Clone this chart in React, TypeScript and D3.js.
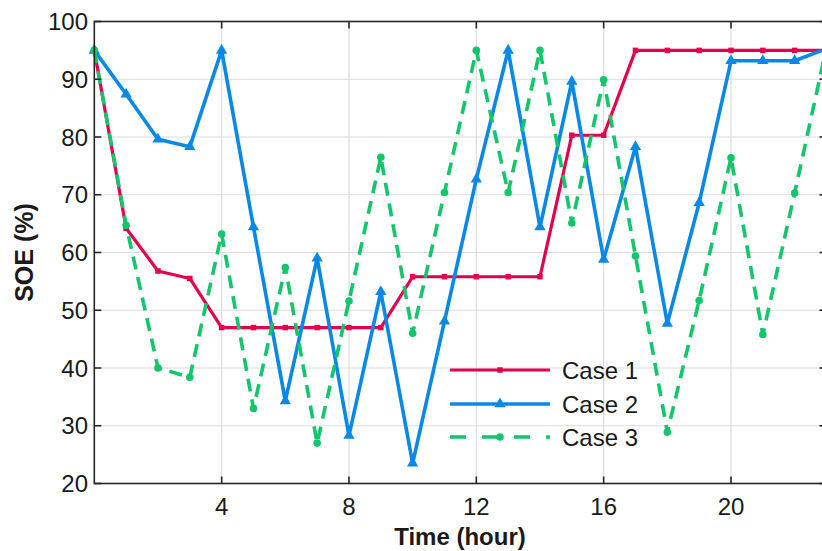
import React from "react";
import * as d3 from "d3";

const hours = d3.range(0, 24);
const case1 = [95, 64.2, 56.8, 55.5, 47, 47, 47, 47, 47, 47, 55.8, 55.8, 55.8, 55.8, 55.8, 80.3, 80.3, 95, 95, 95, 95, 95, 95, 95];
const case2 = [95, 87.4, 79.6, 78.3, 95, 64.4, 34.3, 59.0, 28.3, 53.2, 23.5, 48.1, 72.7, 95, 64.4, 89.6, 58.8, 78.3, 47.7, 68.6, 93.2, 93.2, 93.2, 95.3];
const case3 = [95, 64.7, 40.0, 38.4, 63.2, 33.0, 57.4, 27.0, 51.6, 76.5, 46.0, 70.4, 95, 70.4, 95, 65.1, 89.9, 59.4, 28.9, 51.7, 76.4, 45.8, 70.3, 95.5];
const xTicks = [4, 8, 12, 16, 20];
const yTicks = [20, 30, 40, 50, 60, 70, 80, 90, 100];
const seriesNames = ["Case 1", "Case 2", "Case 3"];

const COLORS = ["#E2004E", "#0A88E6", "#14C56C"];
const FONT = "'Liberation Sans', Arial, Helvetica, sans-serif";

export default function App() {
  const W = 822, H = 551;
  const x = d3.scaleLinear().domain([0, 23]).range([94.3, 826.5]);
  const y = d3.scaleLinear().domain([20, 100]).range([483.5, 21.5]);
  const line = d3.line<number>().x((_, i) => x(hours[i])).y((d) => y(d));
  const left = x(0), right = x(23), top = y(100), bottom = y(20);
  const axisColor = "#262626";
  const tri = d3.symbol().type(d3.symbolTriangle).size(55)();
  const sq = d3.symbol().type(d3.symbolSquare).size(30)();

  const legendRows = [370, 404, 437];

  return (
    <svg width={W} height={H} style={{ position: "absolute", left: 0, top: 0, background: "#fff" }}>
      <rect x={0} y={0} width={W} height={H} fill="#fff" />
      {/* grid */}
      {yTicks.map((t) => (
        <line key={"gy" + t} x1={left} x2={right} y1={y(t)} y2={y(t)} stroke="#dcdcdc" strokeWidth={1.2} />
      ))}
      {xTicks.map((t) => (
        <line key={"gx" + t} x1={x(t)} x2={x(t)} y1={top} y2={bottom} stroke="#dcdcdc" strokeWidth={1.2} />
      ))}
      {/* series */}
      <path d={line(case1) || ""} fill="none" stroke={COLORS[0]} strokeWidth={3.2} strokeLinejoin="round" />
      {case1.map((v, i) => (
        <path key={"m1" + i} d={sq || ""} transform={`translate(${x(hours[i])},${y(v)})`} fill={COLORS[0]} />
      ))}
      <path d={line(case2) || ""} fill="none" stroke={COLORS[1]} strokeWidth={3.6} strokeLinejoin="round" />
      {case2.map((v, i) => (
        <path key={"m2" + i} d={tri || ""} transform={`translate(${x(hours[i])},${y(v)})`} fill={COLORS[1]} />
      ))}
      <path d={line(case3) || ""} fill="none" stroke={COLORS[2]} strokeWidth={3.6} strokeDasharray="13,8" />
      {case3.map((v, i) => (
        <circle key={"m3" + i} cx={x(hours[i])} cy={y(v)} r={3.8} fill={COLORS[2]} />
      ))}
      {/* axes box */}
      <rect x={left} y={top} width={right - left} height={bottom - top} fill="none" stroke={axisColor} strokeWidth={1.6} />
      {xTicks.map((t) => (
        <g key={"tx" + t}>
          <line x1={x(t)} x2={x(t)} y1={bottom} y2={bottom - 7} stroke={axisColor} strokeWidth={1.6} />
          <line x1={x(t)} x2={x(t)} y1={top} y2={top + 7} stroke={axisColor} strokeWidth={1.6} />
          <text x={x(t)} y={515} textAnchor="middle" fontFamily={FONT} fontSize={24} fill="#1a1a1a">{t}</text>
        </g>
      ))}
      {yTicks.map((t) => (
        <g key={"ty" + t}>
          <line x1={left} x2={left + 7} y1={y(t)} y2={y(t)} stroke={axisColor} strokeWidth={1.6} />
          <line x1={right} x2={right - 7} y1={y(t)} y2={y(t)} stroke={axisColor} strokeWidth={1.6} />
          <text x={88} y={y(t) + 8.5} textAnchor="end" fontFamily={FONT} fontSize={24} fill="#1a1a1a">{t}</text>
        </g>
      ))}
      {/* axis labels */}
      <text x={460} y={545} textAnchor="middle" fontFamily={FONT} fontSize={24} fontWeight="bold" fill="#1a1a1a">Time (hour)</text>
      <text transform={`translate(33,${(top + bottom) / 2}) rotate(-90)`} textAnchor="middle" fontFamily={FONT} fontSize={25} fontWeight="bold" fill="#1a1a1a">SOE (%)</text>
      {/* legend */}
      <g>
        <line x1={450} x2={550} y1={legendRows[0]} y2={legendRows[0]} stroke={COLORS[0]} strokeWidth={3.2} />
        <path d={sq || ""} transform={`translate(500,${legendRows[0]})`} fill={COLORS[0]} />
        <line x1={450} x2={550} y1={legendRows[1]} y2={legendRows[1]} stroke={COLORS[1]} strokeWidth={3.6} />
        <path d={tri || ""} transform={`translate(500,${legendRows[1]})`} fill={COLORS[1]} />
        <line x1={450} x2={550} y1={legendRows[2]} y2={legendRows[2]} stroke={COLORS[2]} strokeWidth={3.6} strokeDasharray="16,16" />
        <circle cx={500} cy={legendRows[2]} r={3.8} fill={COLORS[2]} />
        {seriesNames.map((n, i) => (
          <text key={n} x={562} y={legendRows[i] + 8.5} fontFamily={FONT} fontSize={24} fill="#1a1a1a">{n}</text>
        ))}
      </g>
    </svg>
  );
}
